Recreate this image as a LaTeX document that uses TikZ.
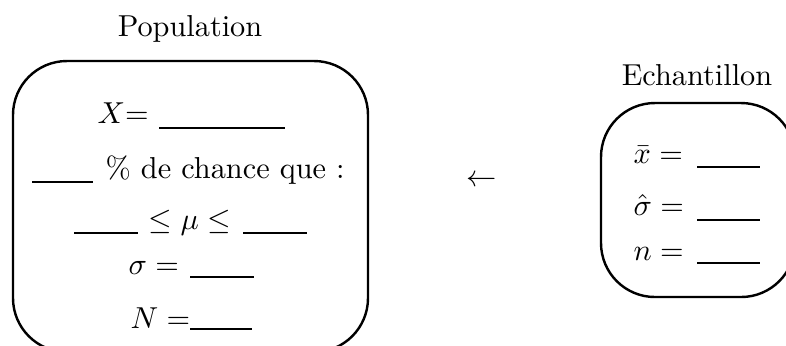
\documentclass[tikz,border=0pt]{standalone}
\usepackage{amssymb}
\tikzset{
  box/.style={draw=black, line width=0.8pt, rounded corners=17.8pt},
  blank/.style={line width=0.75pt},
  txt/.style={inner sep=0pt, anchor=base west},
  ttl/.style={inner sep=0pt, anchor=base}
}
\begin{document}
\begin{tikzpicture}[x=0.33pt,y=-0.33pt]
\useasboundingbox (0,0) rectangle (786,345);
\clip (0,0) rectangle (786,345);
% titles
\node[ttl] (pop) at (190,36) {Population};
\node[ttl] (ech) at (697,85) {Echantillon};
% boxes
\draw[box] (13,61) rectangle (368,352);
\draw[box] (601,103) rectangle (795,297);
% population lines
\node[txt] (X) at (97,123) {$X$=};
\draw[blank] (159,128) -- (285,128);
\draw[blank] (32,182) -- (93,182);
\node[txt] (chance) at (105,178) {\% de chance que :};
\draw[blank] (74,233) -- (138,233);
\node[txt] (mu) at (148,229) {$\leq \mu \leq$};
\draw[blank] (243,233) -- (307,233);
\node[txt] (sigma) at (128,274) {$\sigma =$};
\draw[blank] (190,277) -- (254,277);
\node[txt] (N) at (130,328) {$N =$};
\draw[blank] (190,329) -- (252,329);
% arrow
\node[inner sep=0pt] (arr) at (482,181) {$\leftarrow$};
% sample lines
\node[txt] (xbar) at (633,163) {$\bar{x} =$};
\draw[blank] (697,167) -- (760,167);
\node[txt] (shat) at (633,215) {$\hat{\sigma} =$};
\draw[blank] (697,220) -- (760,220);
\node[txt] (n) at (633,260) {$n =$};
\draw[blank] (697,263) -- (760,263);
\end{tikzpicture}
\end{document}
